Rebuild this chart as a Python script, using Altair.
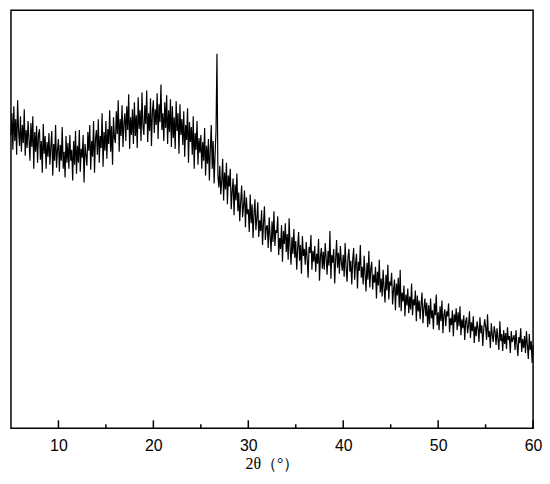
import altair as alt
import pandas as pd

start_angle = 5.0
step = 0.1
intensity = [
    296, 318, 281, 325, 290, 312, 276, 331, 300, 285,   # 5
    315, 279, 306, 288, 322, 275, 301, 283, 310, 292,   # 6
    270, 308, 284, 315, 262, 299, 279, 305, 268, 296,   # 7
    302, 271, 290, 258, 307, 277, 295, 262, 289, 274,   # 8
    298, 266, 284, 300, 255, 287, 270, 306, 263, 281,   # 9
    292, 259, 286, 270, 304, 262, 279, 253, 295, 268,   # 10
    288, 262, 296, 270, 281, 250, 290, 266, 300, 257,   # 11
    285, 268, 301, 259, 282, 273, 296, 248, 287, 276,   # 12
    265, 299, 280, 306, 261, 290, 274, 310, 258, 292,   # 13
    301, 276, 312, 268, 295, 283, 318, 264, 299, 280,   # 14
    310, 272, 302, 287, 321, 279, 305, 266, 314, 293,   # 15
    288, 320, 297, 331, 279, 312, 295, 326, 284, 308,   # 16
    318, 290, 325, 301, 337, 282, 314, 296, 322, 287,   # 17
    329, 295, 316, 283, 334, 302, 321, 290, 339, 305,   # 18
    296, 326, 307, 341, 289, 318, 300, 333, 285, 320,   # 19
    331, 298, 322, 306, 338, 292, 327, 309, 347, 301,   # 20
    318, 290, 329, 303, 336, 287, 321, 299, 332, 284,   # 21
    325, 293, 314, 282, 330, 300, 318, 277, 327, 296,   # 22
    312, 286, 320, 274, 306, 291, 323, 268, 309, 289,   # 23
    304, 276, 315, 262, 298, 281, 310, 266, 293, 278,   # 24
    296, 262, 289, 270, 303, 255, 285, 267, 292, 250,   # 25
    281, 306, 262, 290, 247, 276, 300, 378, 255, 243,   # 26
    265, 236, 249, 272, 230, 258, 241, 268, 226, 255,   # 27
    244, 262, 221, 239, 252, 215, 246, 230, 257, 219,   # 28
    238, 209, 229, 245, 213, 224, 240, 203, 233, 216,   # 29
    221, 198, 236, 207, 226, 192, 217, 231, 200, 212,   # 30
    228, 193, 210, 199, 220, 185, 207, 224, 190, 203,   # 31
    205, 182, 213, 194, 178, 209, 188, 219, 184, 200,   # 32
    197, 214, 175, 192, 181, 205, 168, 199, 186, 207,   # 33
    178, 196, 170, 212, 183, 165, 193, 176, 201, 172,   # 34
    189, 160, 182, 198, 169, 185, 156, 194, 174, 181,   # 35
    165, 188, 171, 152, 183, 177, 195, 160, 179, 168,   # 36
    184, 158, 176, 166, 191, 149, 173, 182, 161, 178,   # 37
    160, 187, 172, 155, 179, 164, 199, 151, 175, 167,   # 38
    181, 146, 170, 190, 162, 177, 156, 184, 168, 159,   # 39
    175, 153, 187, 163, 148, 172, 181, 158, 169, 145,   # 40
    170, 182, 150, 166, 176, 141, 168, 159, 185, 152,   # 41
    163, 145, 174, 156, 138, 167, 150, 179, 142, 161,   # 42
    168, 140, 155, 147, 163, 131, 158, 144, 170, 137,   # 43
    151, 133, 160, 142, 127, 155, 139, 165, 130, 148,   # 44
    144, 157, 125, 140, 150, 119, 146, 134, 152, 122,   # 45
    160, 118, 137, 128, 144, 113, 135, 124, 141, 116,   # 46
    133, 120, 146, 114, 130, 124, 139, 108, 134, 118,   # 47
    129, 110, 125, 137, 106, 121, 131, 113, 127, 102,   # 48
    124, 105, 131, 111, 119, 100, 126, 114, 135, 104,   # 49
    117, 99, 123, 108, 129, 96, 114, 120, 103, 118,     # 50
    113, 126, 97, 111, 104, 119, 93, 115, 107, 121,     # 51
    99, 117, 103, 123, 94, 110, 101, 114, 89, 108,      # 52
    112, 96, 104, 118, 91, 107, 98, 113, 86, 103,       # 53
    93, 108, 101, 87, 112, 96, 104, 83, 100, 110,       # 54
    102, 89, 115, 92, 98, 81, 106, 94, 87, 103,         # 55
    97, 84, 101, 90, 79, 108, 88, 95, 78, 99,           # 56
    85, 96, 80, 102, 89, 93, 76, 98, 87, 91,            # 57
    94, 79, 99, 85, 73, 92, 86, 101, 77, 90,            # 58
    81, 93, 76, 98, 84, 70, 95, 79, 88, 66,             # 59
    84,                                                 # 60
]
two_theta = [round(start_angle + step * i, 1) for i in range(len(intensity))]

major_ticks = [10, 20, 30, 40, 50, 60]
minor_ticks = [15, 25, 35, 45, 55]

W, H = 527, 422

df = pd.DataFrame({"two_theta": two_theta, "intensity": intensity})
x_scale = alt.Scale(domain=[5, 60], nice=False, zero=False)

line = alt.Chart(df).mark_line(color="black", strokeWidth=1.2).encode(
    x=alt.X("two_theta:Q", scale=x_scale,
            axis=alt.Axis(values=major_ticks, domain=False, ticks=False, grid=False,
                          labelFontSize=16, labelFont="Liberation Sans", labelColor="black",
                          labelPadding=9, labelFlush=False,
                          title="2θ（°）", titleFont="Liberation Serif", titleFontSize=16,
                          titleFontWeight="normal", titleColor="black", titlePadding=3)),
    y=alt.Y("intensity:Q", scale=alt.Scale(domain=[0, 422], nice=False), axis=None),
)

major = alt.Chart(pd.DataFrame({"t": major_ticks})).mark_rule(color="black", strokeWidth=1.5).encode(
    x=alt.X("t:Q", scale=x_scale), y=alt.value(H - 8), y2=alt.value(H)
)
minor = alt.Chart(pd.DataFrame({"t": minor_ticks})).mark_rule(color="black", strokeWidth=1.5).encode(
    x=alt.X("t:Q", scale=x_scale), y=alt.value(H - 4), y2=alt.value(H)
)

chart = (line + major + minor).properties(
    width=W, height=H, padding={"left": 0, "top": 0, "right": 0, "bottom": 0}
).configure_view(stroke="black", strokeWidth=1.5)

chart.save("out.html", embed_options={"renderer": "svg", "actions": False})
